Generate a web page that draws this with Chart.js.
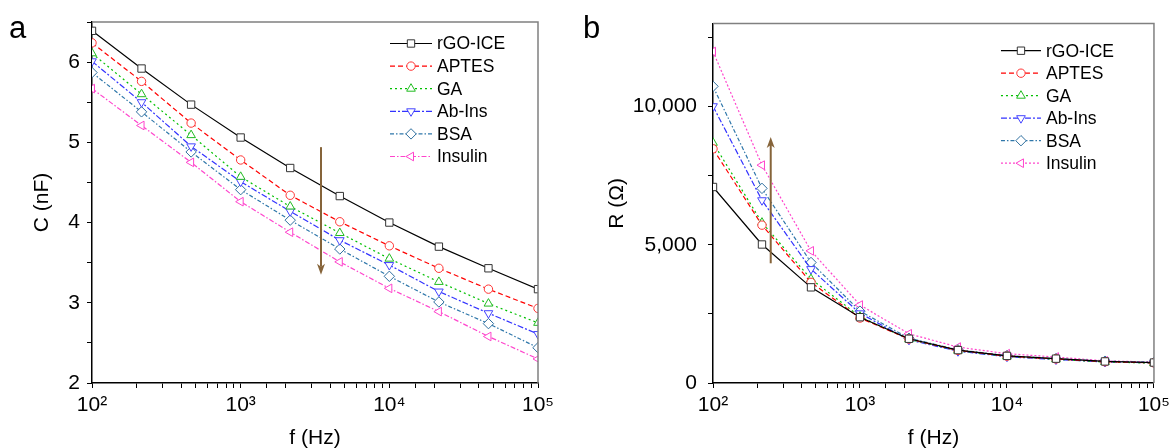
<!DOCTYPE html>
<html>
<head>
<meta charset="utf-8">
<script src="https://cdn.jsdelivr.net/npm/chart.js@4.4.0/dist/chart.umd.min.js"></script>
<style>
    html, body { margin: 0; padding: 0; background: #fff; }
    #wrap { position: relative; width: 1175px; height: 448px; overflow: hidden; font-family: "Liberation Sans", Arial, sans-serif; }
    canvas { position: absolute; top: 0; }
    .tag { position: absolute; font-size: 31px; color: #000; line-height: 1; }
</style>
</head>
<body>
<div id="wrap">
    <canvas id="char_c" width="587" height="448" style="left:0"></canvas>
    <canvas id="char_r" width="588" height="448" style="left:587px"></canvas>
    <div class="tag" style="left:9px;top:12px">a</div>
    <div class="tag" style="left:583px;top:12px">b</div>
</div>
<script>
// frequencies (Hz), 3 points per decade
var freqs = [100, 215.4, 464.2, 1000, 2154, 4642, 10000, 21544, 46416, 100000];
var seriesNames = ["rGO-ICE", "APTES", "GA", "Ab-Ins", "BSA", "Insulin"];

// capacitance C (nF)
var cRgo = [6.39, 5.92, 5.47, 5.06, 4.68, 4.33, 4.00, 3.70, 3.43, 3.17];
var cAptes = [6.24, 5.76, 5.24, 4.78, 4.34, 4.01, 3.71, 3.43, 3.17, 2.93];
var cGa = [6.11, 5.60, 5.09, 4.57, 4.20, 3.87, 3.55, 3.26, 2.99, 2.75];
var cAbIns = [6.01, 5.50, 4.95, 4.51, 4.14, 3.78, 3.47, 3.14, 2.87, 2.61];
var cBsa = [5.87, 5.38, 4.88, 4.41, 4.03, 3.67, 3.33, 3.01, 2.74, 2.44];
var cInsulin = [5.67, 5.21, 4.75, 4.26, 3.88, 3.51, 3.18, 2.89, 2.58, 2.30];

// resistance R (ohm)
var rRgo = [7090, 5010, 3460, 2380, 1600, 1190, 980, 880, 780, 740];
var rAptes = [8470, 5710, 3640, 2350, 1590, 1180, 970, 870, 770, 730];
var rGa = [8690, 5800, 3760, 2400, 1580, 1170, 960, 860, 760, 720];
var rAbIns = [10010, 6610, 4120, 2520, 1560, 1150, 950, 850, 760, 730];
var rBsa = [10730, 7040, 4360, 2600, 1620, 1200, 990, 880, 790, 750];
var rInsulin = [11990, 7880, 4780, 2820, 1780, 1300, 1060, 940, 800, 760];

var xTickLabels = {2: "10\u00B2", 3: "10\u00B3", 4: "10\u2074", 5: "10\u2075"};

var FONT = "'Liberation Sans', Arial, sans-serif";
var FS = 21;

var styles = [
    { line: "#000000", mark: "#333333", dash: [], shape: "rect", rot: 0, r: 5.2 },
    { line: "#ff0000", mark: "#ff3333", dash: [5, 3], shape: "circle", rot: 0, r: 4.2 },
    { line: "#00c000", mark: "#22bb22", dash: [2, 3], shape: "triangle", rot: 0, r: 5 },
    { line: "#3333ff", mark: "#4444ff", dash: [6, 2, 2, 2], shape: "triangle", rot: 180, r: 5 },
    { line: "#2f77aa", mark: "#2f6f9f", dash: [4, 2, 1.5, 2], shape: "rectRot", rot: 0, r: 5.2 },
    { line: "#ff44cc", mark: "#ff44cc", dash: [5, 2, 1.5, 2], shape: "triangle", rot: 270, r: 5 }
];

function withCommas(v) {
    return String(Math.round(v)).replace(/\B(?=(\d{3})+(?!\d))/g, ",");
}

function makeDatasets(lists, dashes) {
    return lists.map(function (vals, i) {
        var s = styles[i];
        return {
            label: seriesNames[i],
            data: freqs.map(function (f, k) { return { x: f, y: vals[k] }; }),
            borderColor: s.line,
            borderWidth: 1.2,
            borderDash: (dashes && dashes[i]) || s.dash,
            pointStyle: s.shape,
            pointRotation: s.rot,
            pointRadius: s.r,
            pointBorderColor: s.mark,
            pointBackgroundColor: "#ffffff",
            pointBorderWidth: 1,
            tension: 0,
            fill: false
        };
    });
}

// legend drawn inside the plot, line + marker + text
var insideLegend = {
    id: "insideLegend",
    afterDatasetsDraw: function (chart, args, opts) {
        var ctx = chart.ctx;
        var area = chart.chartArea;
        ctx.save();
        chart.data.datasets.forEach(function (ds, i) {
            var x0 = area.right + opts.dx;
            var y = opts.y + i * opts.step;
            ctx.lineWidth = 1.2;
            ctx.strokeStyle = ds.borderColor;
            ctx.setLineDash(ds.borderDash);
            ctx.beginPath();
            ctx.moveTo(x0, y);
            ctx.lineTo(x0 + opts.len, y);
            ctx.stroke();
            ctx.setLineDash([]);
            ctx.fillStyle = "#ffffff";
            ctx.strokeStyle = ds.pointBorderColor;
            ctx.lineWidth = 1;
            Chart.helpers.drawPoint(ctx, {
                pointStyle: ds.pointStyle,
                rotation: ds.pointRotation,
                radius: ds.pointRadius,
                borderWidth: 1
            }, x0 + opts.len / 2, y);
            ctx.fillStyle = "#000";
            ctx.font = "17.5px " + FONT;
            ctx.textBaseline = "middle";
            ctx.textAlign = "left";
            ctx.fillText(ds.label, x0 + opts.len + 5, y + 1);
        });
        ctx.restore();
    }
};

// gray top/right frame and the brown arrow
var frameArrow = {
    id: "frameArrow",
    afterDraw: function (chart, args, opts) {
        var ctx = chart.ctx;
        var a = chart.chartArea;
        ctx.save();
        ctx.strokeStyle = "#808080";
        ctx.lineWidth = 1.5;
        ctx.beginPath();
        ctx.moveTo(a.left, a.top);
        ctx.lineTo(a.right, a.top);
        ctx.lineTo(a.right, a.bottom);
        ctx.stroke();

        var xs = chart.scales.x, ys = chart.scales.y;
        var ax = xs.getPixelForValue(opts.x);
        var yFrom = ys.getPixelForValue(opts.from);
        var yTo = ys.getPixelForValue(opts.to);
        var dir = yTo > yFrom ? 1 : -1;
        ctx.strokeStyle = "#86643a";
        ctx.fillStyle = "#86643a";
        ctx.lineWidth = 2;
        ctx.beginPath();
        ctx.moveTo(ax, yFrom);
        ctx.lineTo(ax, yTo - dir * 8);
        ctx.stroke();
        ctx.beginPath();
        ctx.moveTo(ax, yTo);
        ctx.lineTo(ax - 4, yTo - dir * 11);
        ctx.lineTo(ax, yTo - dir * 8);
        ctx.lineTo(ax + 4, yTo - dir * 11);
        ctx.closePath();
        ctx.fill();
        ctx.restore();
    }
};

function xAxis(height) {
    return {
        type: "logarithmic",
        min: 100,
        max: 100000,
        afterFit: function (scale) { scale.height = height; },
        border: { display: true, color: "#000", width: 1.5 },
        grid: { drawOnChartArea: false, drawTicks: true, tickLength: 5, tickColor: "#000", tickWidth: 1 },
        ticks: {
            autoSkip: false,
            maxRotation: 0,
            padding: 5,
            color: "#000",
            font: { family: FONT, size: FS },
            callback: function (value) {
                var e = Math.round(Math.log10(value));
                if (Math.abs(Math.log10(value) - e) < 1e-6 && xTickLabels[e]) {
                    return xTickLabels[e];
                }
                return "";
            }
        },
        title: { display: true, text: "f (Hz)", color: "#000", font: { family: FONT, size: FS }, padding: { top: 0, bottom: -3 } }
    };
}

function yAxis(width, min, max, step, labelEvery, title, titlePad, tickPad, fmt) {
    return {
        type: "linear",
        min: min,
        max: max,
        afterFit: function (scale) { scale.width = width; },
        afterBuildTicks: function (scale) {
            var list = [];
            for (var v = min; v <= max + 1e-9; v += step) {
                list.push({ value: Math.round(v * 1000) / 1000 });
            }
            scale.ticks = list;
        },
        border: { display: true, color: "#000", width: 1.5 },
        grid: { drawOnChartArea: false, drawTicks: true, tickLength: 5, tickColor: "#000", tickWidth: 1 },
        ticks: {
            autoSkip: false,
            padding: tickPad,
            color: "#000",
            font: { family: FONT, size: FS },
            callback: function (value) {
                var q = value / labelEvery;
                if (Math.abs(q - Math.round(q)) < 1e-6) {
                    return fmt(value);
                }
                return "";
            }
        },
        title: { display: true, text: title, color: "#000", font: { family: FONT, size: FS }, padding: { top: titlePad, bottom: 0 } }
    };
}

var chartC = document.getElementById("char_c");
if (chartC != null) {
    new Chart(chartC.getContext("2d"), {
        type: "line",
        data: { datasets: makeDatasets([cRgo, cAptes, cGa, cAbIns, cBsa, cInsulin]) },
        options: {
            responsive: false,
            animation: false,
            layout: { padding: { left: 0, right: 49, top: 22, bottom: 0 } },
            plugins: {
                legend: { display: false },
                tooltip: { enabled: false },
                insideLegend: { dx: -148, y: 43.5, step: 22.6, len: 42 },
                frameArrow: { x: 3470, from: 4.94, to: 3.35 }
            },
            scales: {
                x: xAxis(65),
                y: yAxis(92, 2, 6.5, 0.5, 1, "C (nF)", 30, 7, function (v) { return String(v); })
            }
        },
        plugins: [insideLegend, frameArrow]
    });
}

var chartR = document.getElementById("char_r");
if (chartR != null) {
    new Chart(chartR.getContext("2d"), {
        type: "line",
        data: { datasets: makeDatasets([rRgo, rAptes, rGa, rAbIns, rBsa, rInsulin], { 5: [2, 2] }) },
        options: {
            responsive: false,
            animation: false,
            layout: { padding: { left: 0, right: 17, top: 22, bottom: 0 } },
            plugins: {
                legend: { display: false },
                tooltip: { enabled: false },
                insideLegend: { dx: -153, y: 50.7, step: 22.5, len: 40 },
                frameArrow: { x: 247, from: 4330, to: 8900 }
            },
            scales: {
                x: xAxis(65),
                y: yAxis(126, 0, 13000, 2500, 5000, "R (\u03A9)", 17.5, 11, withCommas)
            }
        },
        plugins: [insideLegend, frameArrow]
    });
}
</script>
</body>
</html>
